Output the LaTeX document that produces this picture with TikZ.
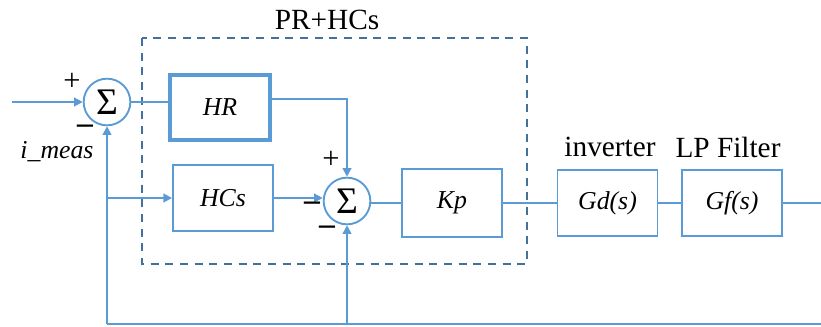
\documentclass[tikz,border=0pt]{standalone}
\usepackage{fontspec}
\setmainfont{Liberation Serif}
\usepackage{xcolor}
\usetikzlibrary{arrows.meta, positioning}
\definecolor{lineblue}{HTML}{5B9BD5}
\definecolor{dashblue}{HTML}{41719C}

\begin{document}
\begin{tikzpicture}[x=0.03cm, y=-0.03cm,
  sumnode/.style={draw=lineblue, line width=1.6pt, circle, minimum size=1.4cm, inner sep=0pt, font=\fontsize{32}{32}\selectfont},
  blk/.style={draw=lineblue, line width=1.6pt, minimum width=3cm, minimum height=2cm, font=\fontsize{22}{24}\selectfont\itshape},
  wire/.style={lineblue, line width=1.6pt},
  arr/.style={wire, -{Triangle[length=2.6mm, width=2.6mm]}},
  toplbl/.style={font=\fontsize{25}{28}\selectfont},
  sgn/.style={inner sep=0pt, font=\fontsize{22}{24}\selectfont},
  plus/.style={inner sep=0pt, font=\fontsize{26}{26}\selectfont},
  minus/.style={inner sep=0pt, text height=0.35em, text depth=0pt, font=\fontsize{27}{27}\selectfont\bfseries}]
\useasboundingbox (0,0) rectangle (821,326);
% controller frame
\draw[dashblue, line width=2pt, dash pattern=on 0.24cm off 0.2cm] (142,38) rectangle (527,264);
\node[toplbl] (prlbl) at (327,20) {PR+HCs};
% summing junctions
\node[sumnode] (sum1) at (107,102) {Σ};
\node[sumnode] (sum2) at (347,201) {Σ};
% blocks
\node[blk, line width=2.6pt, minimum height=1.95cm] (hr) at (220,107.5) {HR};
\node[blk] (hcs) at (223,198) {HCs};
\node[blk, minimum height=2.05cm] (kp) at (452,203) {Kp};
\node[blk] (gd) at (607.5,203) {Gd(s)};
\node[blk] (gf) at (732,203) {Gf(s)};
\node[toplbl] (invlbl) at (610,147) {inverter};
\node[toplbl] (lplbl) at (728,147) {LP Filter};
% end points
\coordinate (in) at (12,102);
\coordinate (out) at (821,203);
\coordinate (fbl) at (107,324);
\coordinate (fbr) at (821,324);
% forward path
\draw[arr] (in) -- (sum1.west);
\draw[wire] (sum1.east) -- (sum1.east -| hr.west);
\draw[arr] ([yshift=0.25cm]hr.east) -| (sum2.north);
\draw[arr] (hcs.east) -- (hcs.east -| sum2.west);
\draw[wire] (sum2.east |- kp.west) -- (kp.west);
\draw[wire] (kp.east) -- (gd.west);
\draw[wire] (gd.east) -- (gf.west);
\draw[wire] (gf.east) -- (out);
% feedback
\draw[wire] (fbr) -- (fbl);
\draw[arr] (fbl) -- (sum1.south);
\draw[arr] (fbl |- hcs.west) -- (hcs.west);
\draw[arr] (fbl -| sum2.south) -- (sum2.south);
% signs
\node[plus] (p1) at (72,82) {+};
\node[minus] (m1) at (85,131) {–};
\node[sgn] (meas) at (57,152) {\itshape i\_meas};
\node[plus] (p2) at (331,160) {+};
\node[minus] (m2) at (312,208) {–};
\node[minus] (m3) at (327,232) {–};
\end{tikzpicture}
\end{document}
